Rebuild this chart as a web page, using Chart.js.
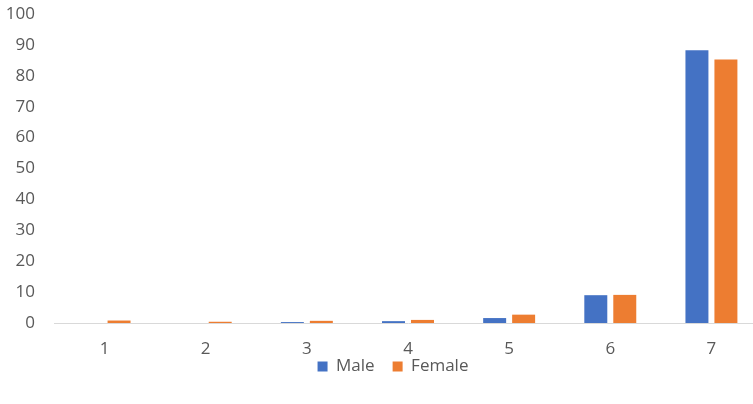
<!DOCTYPE html>
<html>
<head>
<meta charset="utf-8">
<script src="https://cdn.jsdelivr.net/npm/chart.js@4"></script>
<style>
  html, body { margin: 0; padding: 0; background: #fff; overflow: hidden; }
  #wrap { position: relative; width: 762px; height: 404px; }
</style>
</head>
<body>
<div id="wrap"><canvas id="c"></canvas></div>
<script>
// Categories along the x axis
const categories = ['1', '2', '3', '4', '5', '6', '7'];
// Percent of respondents in each category
const maleValues = [0, 0, 0.3, 0.6, 1.6, 9.0, 88.3];
const femaleValues = [0.8, 0.4, 0.7, 1.0, 2.7, 9.1, 85.3];
// Value axis ticks
const yTicks = [0, 10, 20, 30, 40, 50, 60, 70, 80, 90, 100];

const textColor = '#595959';
const fontSpec = { family: "'Open Sans', 'Liberation Sans', sans-serif", size: 17 };

// Tuck the legend up close under the category labels, nudged right
const legendPlace = {
  id: 'legendPlace',
  afterLayout(chart) {
    const lg = chart.legend;
    if (!lg) return;
    const dy = 19, dx = 12;
    lg.top -= dy;
    lg.bottom -= dy;
    lg.left += dx;
    lg.right += dx;
  }
};

new Chart(document.getElementById('c'), {
  type: 'bar',
  data: {
    labels: categories,
    datasets: [
      { label: 'Male', data: maleValues, backgroundColor: '#4472C4', borderWidth: 0,
        categoryPercentage: 0.573, barPercentage: 0.793 },
      { label: 'Female', data: femaleValues, backgroundColor: '#ED7D31', borderWidth: 0,
        categoryPercentage: 0.573, barPercentage: 0.793 }
    ]
  },
  plugins: [legendPlace],
  options: {
    responsive: true,
    maintainAspectRatio: false,
    animation: false,
    layout: { padding: { top: 0, right: 0, bottom: 0, left: 0 } },
    plugins: {
      tooltip: { enabled: false },
      legend: {
        position: 'bottom',
        labels: { boxWidth: 10, boxHeight: 10, padding: 18, color: textColor, font: fontSpec }
      }
    },
    scales: {
      x: {
        grid: { display: false, drawTicks: false },
        border: { display: true, color: '#d9d9d9', width: 1 },
        ticks: { color: textColor, font: fontSpec, padding: 16, maxRotation: 0 },
        afterFit: s => { s.height = 36; }
      },
      y: {
        min: 0, max: 100,
        afterBuildTicks: s => { s.ticks = yTicks.map(v => ({ value: v })); },
        grid: { display: false, drawTicks: false },
        border: { display: false },
        ticks: { color: textColor, font: fontSpec, padding: 19 },
        afterFit: s => { s.width = 54; s.paddingTop = 14; s.paddingBottom = 0; }
      }
    }
  }
});
</script>
</body>
</html>
